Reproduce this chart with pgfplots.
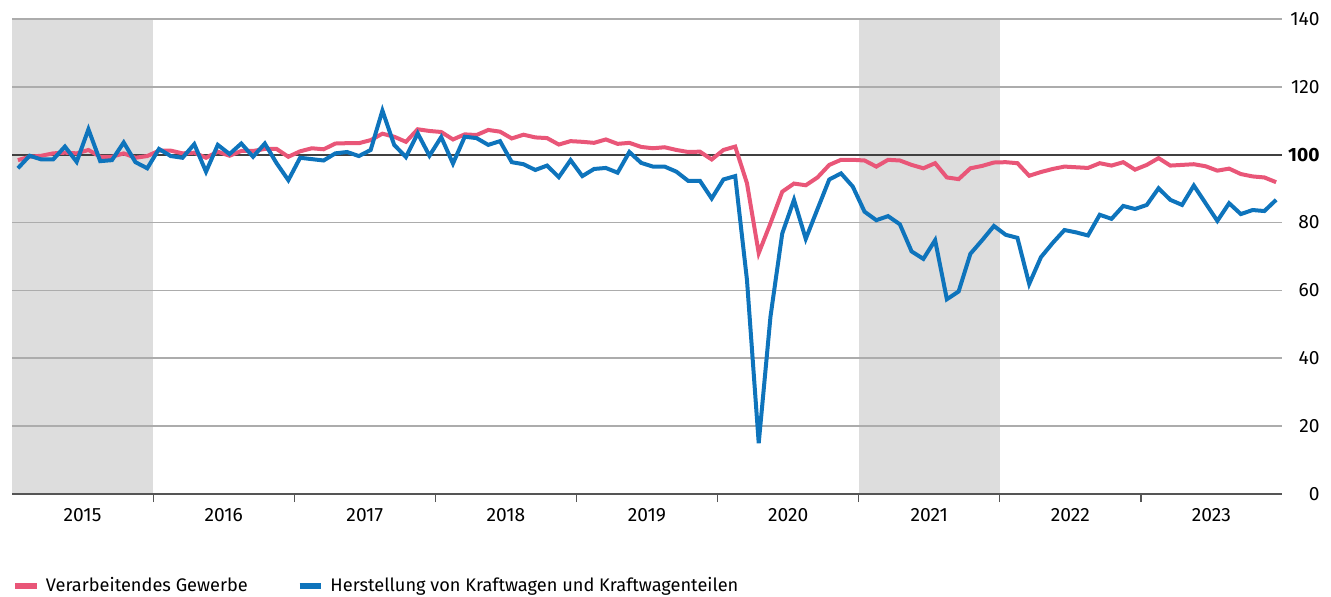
\documentclass[border=0pt]{standalone}
\usepackage{pgfplots}
\usepackage{pgfplotstable}
\pgfplotsset{compat=1.18}
\usepackage{fontspec}
\setmainfont{Fira Sans}
\definecolor{vgred}{RGB}{233,86,120}
\definecolor{kfzblue}{RGB}{14,116,188}
\definecolor{shade}{RGB}{221,221,221}
\definecolor{gridgrey}{RGB}{172,172,172}
\definecolor{axgrey}{RGB}{85,85,85}
\pgfplotstableread{
x vg kfz
0.5 98.4 96.0
1.5 99.4 99.7
2.5 99.7 98.6
3.5 100.4 98.6
4.5 100.6 102.4
5.5 100.4 97.9
6.5 101.4 107.5
7.5 99.4 98.1
8.5 99.4 98.4
9.5 100.4 103.6
10.5 99.1 97.8
11.5 99.6 96.0
12.5 101.2 101.7
13.5 101.2 99.6
14.5 100.4 99.1
15.5 100.6 103.1
16.5 99.1 95.0
17.5 100.9 102.9
18.5 99.7 100.2
19.5 101.1 103.3
20.5 101.1 99.4
21.5 101.7 103.3
22.5 101.7 97.5
23.5 99.4 92.5
24.5 101.0 99.1
25.5 101.9 98.7
26.5 101.6 98.3
27.5 103.3 100.4
28.5 103.4 100.8
29.5 103.4 99.6
30.5 104.3 101.4
31.5 106.2 113.0
32.5 105.3 102.9
33.5 103.8 99.3
34.5 107.5 106.3
35.5 107.0 99.7
36.5 106.7 105.2
37.5 104.5 97.4
38.5 106.0 105.3
39.5 105.8 104.9
40.5 107.3 102.9
41.5 106.8 104.0
42.5 104.8 97.8
43.5 105.9 97.2
44.5 105.1 95.5
45.5 104.9 96.8
46.5 103.0 93.4
47.5 104.0 98.4
48.5 103.8 93.7
49.5 103.5 95.8
50.5 104.5 96.1
51.5 103.2 94.7
52.5 103.5 100.8
53.5 102.3 97.6
54.5 101.9 96.5
55.5 102.2 96.5
56.5 101.4 95.0
57.5 100.8 92.3
58.5 100.9 92.3
59.5 98.6 87.1
60.5 101.4 92.7
61.5 102.4 93.7
62.5 91.6 63.1
63.5 71.0 15.0
64.5 79.8 52.3
65.5 89.1 76.8
66.5 91.5 86.7
67.5 91.0 75.2
68.5 93.3 84.0
69.5 97.0 92.7
70.5 98.5 94.5
71.5 98.5 90.6
72.5 98.3 83.2
73.5 96.5 80.7
74.5 98.5 81.9
75.5 98.3 79.5
76.5 97.0 71.5
77.5 96.0 69.3
78.5 97.5 74.8
79.5 93.3 57.4
80.5 92.8 59.7
81.5 96.0 70.8
82.5 96.7 74.8
83.5 97.7 79.0
84.5 97.8 76.4
85.5 97.5 75.5
86.5 93.8 61.9
87.5 94.9 69.8
88.5 95.8 74.0
89.5 96.5 77.8
90.5 96.3 77.1
91.5 96.1 76.2
92.5 97.5 82.3
93.5 96.8 81.1
94.5 97.8 84.9
95.5 95.6 84.0
96.5 97.0 85.2
97.5 99.0 90.1
98.5 96.8 86.7
99.5 97.0 85.2
100.5 97.2 90.9
101.5 96.6 85.7
102.5 95.3 80.5
103.5 95.9 85.7
104.5 94.3 82.5
105.5 93.6 83.7
106.5 93.3 83.4
107.5 91.9 86.7
}\datatable
\pgfplotstableread{
x y
0 140
12 140
}\shadeA
\pgfplotstableread{
x y
72 140
84 140
}\shadeB
\begin{document}
\begin{tikzpicture}
\begin{axis}[
  set layers,
  scale only axis,
  width=635pt, height=237.5pt,
  xmin=0, xmax=108, ymin=0, ymax=140,
  axis x line*=bottom,
  axis y line*=right,
  y axis line style={draw=none},
  x axis line style={draw=axgrey, line width=1.3pt},
  xtick={12,24,36,48,60,72,84,96},
  xticklabels={},
  extra x ticks={6,18,30,42,54,66,78,90,102},
  extra x tick labels={2015,2016,2017,2018,2019,2020,2021,2022,2023},
  extra x tick style={major tick length=0pt, xticklabel style={yshift=-3.5pt}},
  xtick style={draw=axgrey, line width=0.6pt},
  tick align=outside,
  major tick length=4pt,
  ytick={0,20,40,60,80,100,120,140},
  yticklabels={0,20,40,60,80,\textbf{100},120,140},
  ytick style={draw=none},
  yticklabel style={anchor=east, inner sep=0pt, xshift=15pt},
  ymajorgrids,
  grid style={draw=gridgrey, line width=0.8pt},
  tick label style={font=\fontsize{9.6}{11}\selectfont},
  legend columns=2,
  legend style={at={(0,0)}, anchor=west, yshift=-46pt, draw=none, fill=none,
    inner sep=0pt, font=\fontsize{9.1}{11}\selectfont,
    nodes={inner sep=0pt},
    /tikz/every odd column/.append style={column sep=3.3pt},
    /tikz/every even column/.append style={column sep=24.5pt}},
  legend image code/.code={\draw[#1, line width=2.8pt] (0pt,0pt) -- (10.7pt,0pt);},
]
\addplot[draw=none, fill=shade, on layer=axis background, forget plot] table[x=x,y=y] {\shadeA} \closedcycle;
\addplot[draw=none, fill=shade, on layer=axis background, forget plot] table[x=x,y=y] {\shadeB} \closedcycle;
\addplot[draw=black!75, line width=1.2pt, forget plot] coordinates {(0,100) (108,100)};
\addplot[vgred, line width=2pt, line join=miter, mark=none] table[x=x,y=vg] {\datatable};
\addlegendentry{Verarbeitendes Gewerbe}
\addplot[kfzblue, line width=2pt, line join=miter, mark=none] table[x=x,y=kfz] {\datatable};
\addlegendentry{Herstellung von Kraftwagen und Kraftwagenteilen}
\end{axis}
\pgfresetboundingbox
\path[use as bounding box] (-6pt,-51pt) rectangle (659.5pt,247pt);
\end{tikzpicture}
\end{document}
